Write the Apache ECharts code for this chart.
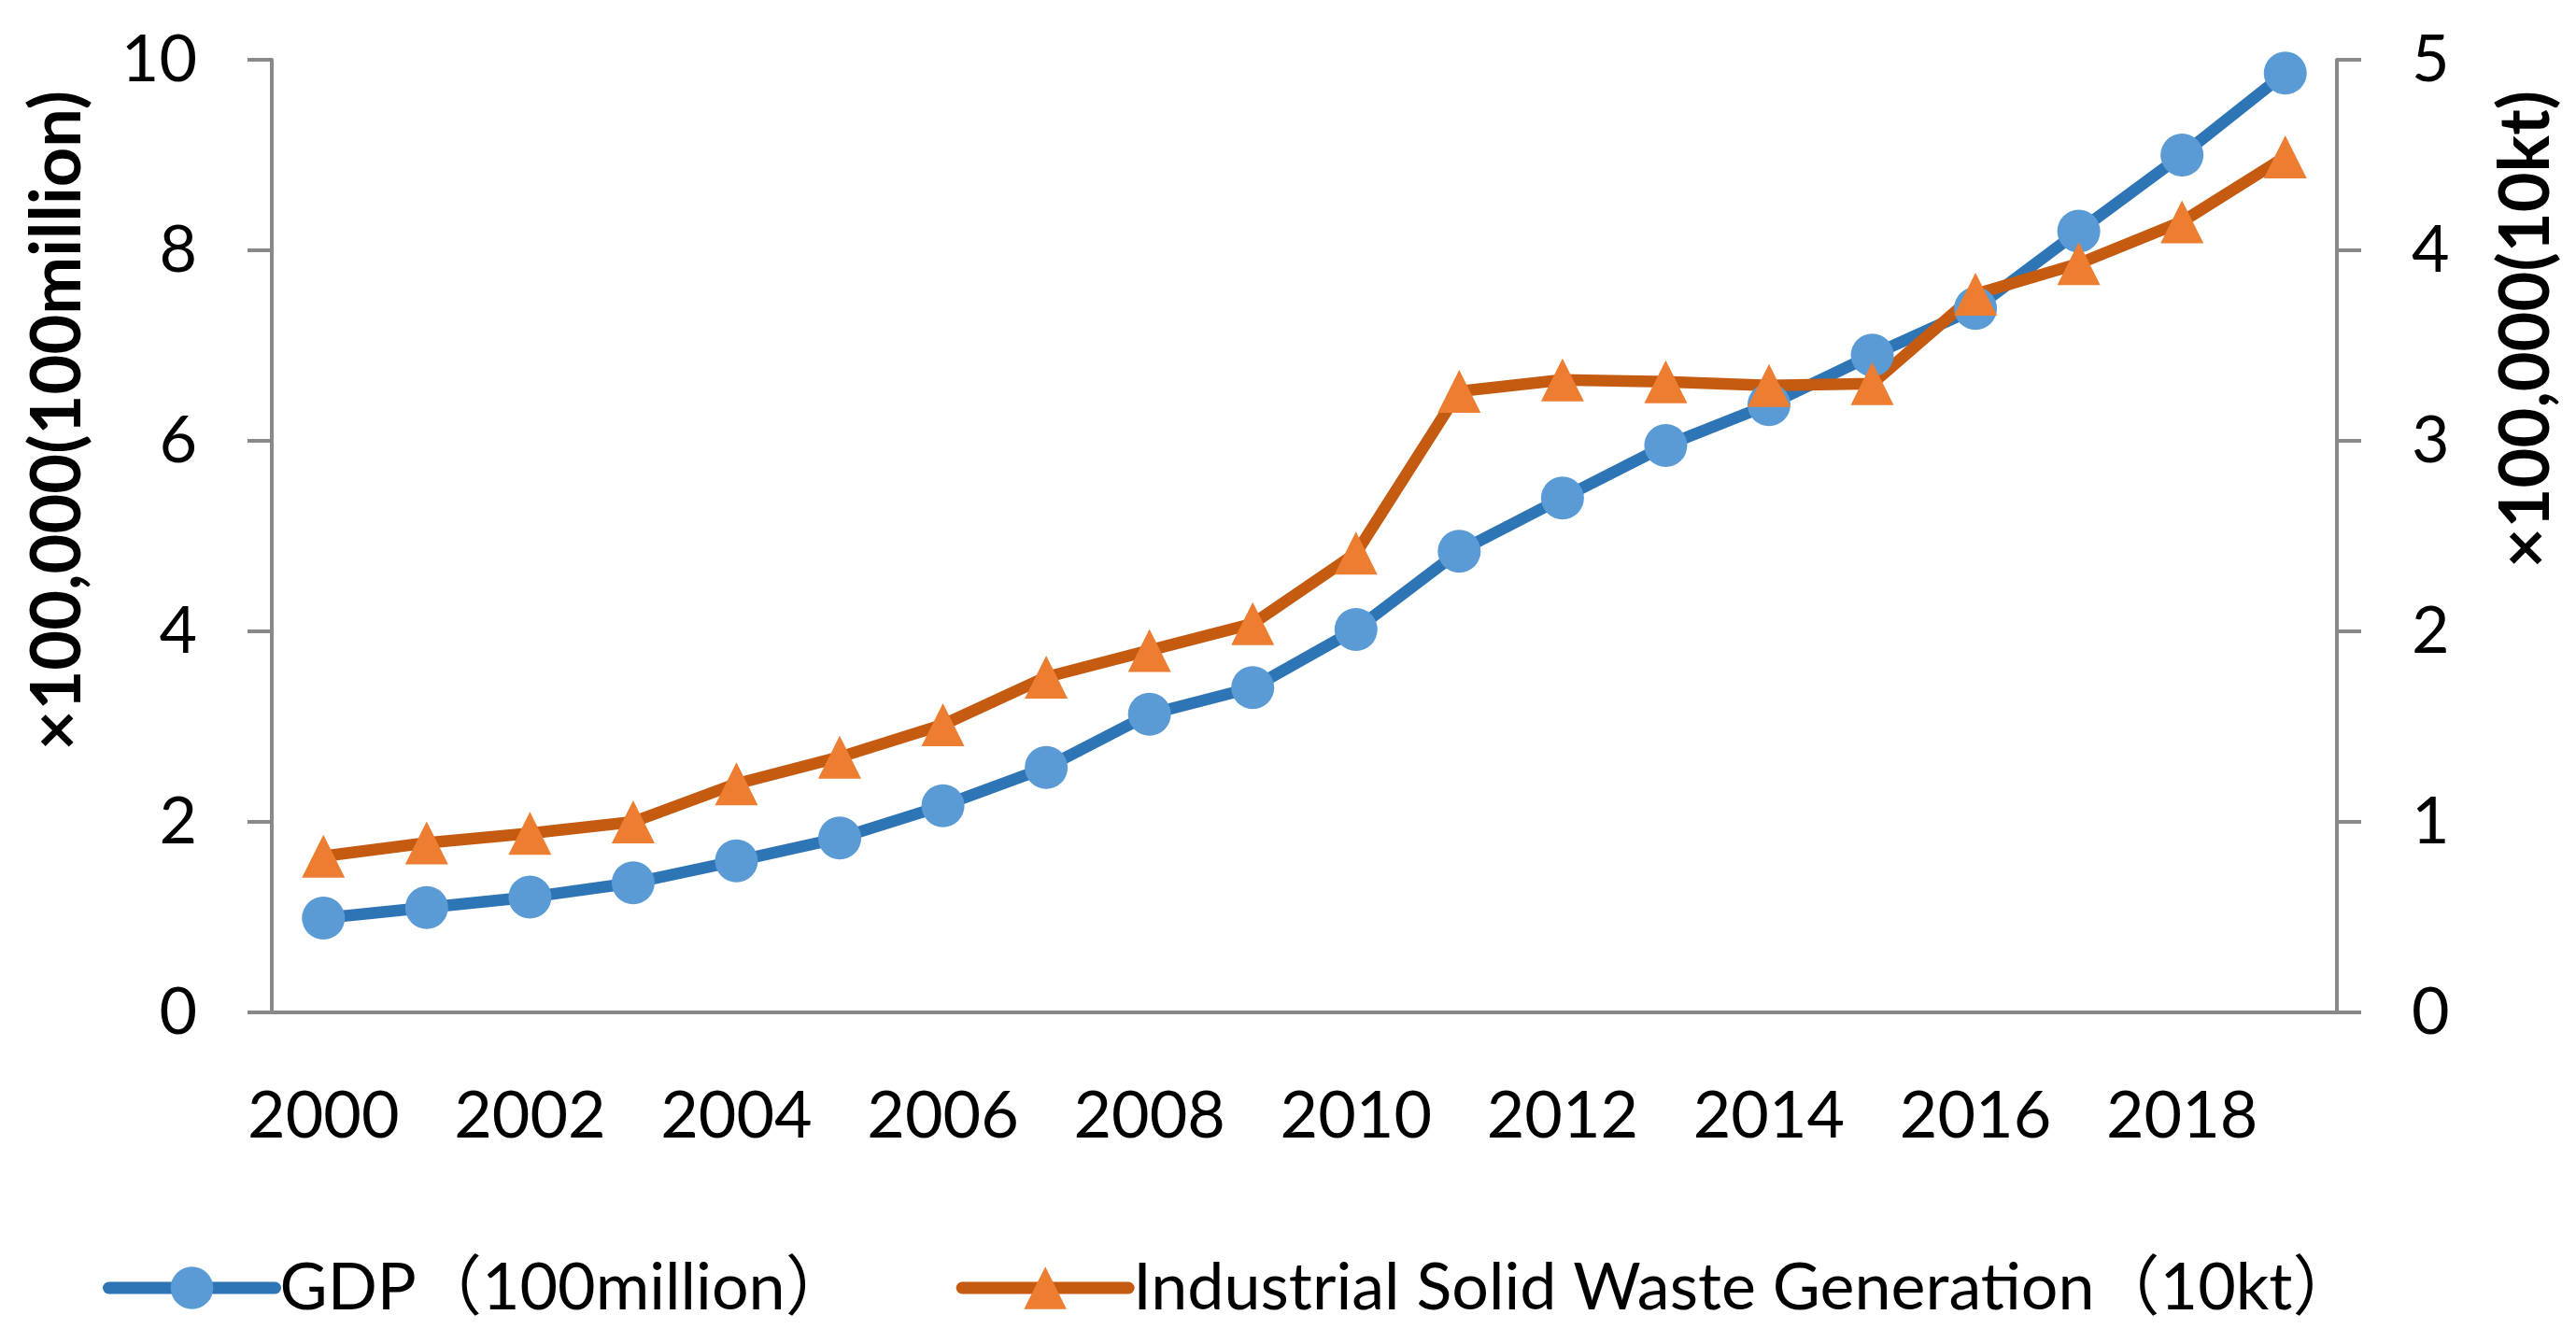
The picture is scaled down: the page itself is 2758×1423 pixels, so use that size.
<!DOCTYPE html>
<html><head><meta charset="utf-8">
<script src="https://cdn.jsdelivr.net/npm/echarts@6/dist/echarts.min.js"></script>
<style>html,body{margin:0;padding:0;background:#fff}#c{width:2758px;height:1423px}</style>
</head><body><div id="c"></div>
<script>
const years = ['2000','2001','2002','2003','2004','2005','2006','2007','2008','2009','2010','2011','2012','2013','2014','2015','2016','2017','2018','2019'];
const gdp = [0.99, 1.10, 1.21, 1.36, 1.59, 1.83, 2.17, 2.57, 3.13, 3.41, 4.02, 4.84, 5.40, 5.95, 6.38, 6.90, 7.39, 8.20, 9.00, 9.86];
const waste = [0.82, 0.89, 0.94, 1.00, 1.20, 1.34, 1.51, 1.76, 1.90, 2.04, 2.41, 3.26, 3.32, 3.31, 3.29, 3.30, 3.77, 3.93, 4.15, 4.49];
const seriesNames = ['GDP（100million）', 'Industrial Solid Waste Generation（10kt）'];
const leftName = '×100,000(100million)';
const rightName = '×100,000(10kt)';

const FONT = 'Lato, "Noto Sans CJK SC", sans-serif';
const AX = '#898989';
const chart = echarts.init(document.getElementById('c'));
const axisCommon = {
  axisLine: {show: true, lineStyle: {color: AX, width: 4}},
  axisTick: {show: true, length: 26, lineStyle: {color: AX, width: 4}},
  splitLine: {show: false},
  axisLabel: {margin: 80, fontSize: 70, fontFamily: FONT, color: '#000'}
};
chart.setOption({
  animation: false,
  backgroundColor: '#fff',
  grid: {left: 291, right: 256, top: 64, bottom: 339},
  legend: {
    left: 105, top: 1339, itemWidth: 178, itemHeight: 57, itemGap: 113,
    lineStyle: {width: 13, cap: 'round'},
    textStyle: {fontSize: 70, fontFamily: FONT, color: '#000'},
    data: seriesNames
  },
  xAxis: {
    type: 'category', data: years, boundaryGap: true,
    axisLine: {lineStyle: {color: AX, width: 4}},
    axisTick: {interval: 1, length: 27, lineStyle: {color: AX, width: 4}},
    axisLabel: {interval: 1, margin: 76, fontSize: 70, fontFamily: FONT, color: '#000'}
  },
  yAxis: [
    Object.assign({type: 'value', min: 0, max: 10, interval: 2, position: 'left'}, axisCommon),
    Object.assign({type: 'value', min: 0, max: 5, interval: 1, position: 'right'}, axisCommon)
  ],
  series: [
    {name: seriesNames[0], type: 'line', yAxisIndex: 0, data: gdp, symbol: 'circle', symbolSize: 46,
     lineStyle: {color: '#2E75B6', width: 12.5}, itemStyle: {color: '#5B9BD5'}},
    {name: seriesNames[1], type: 'line', yAxisIndex: 1, data: waste, symbol: 'triangle', symbolSize: 46,
     lineStyle: {color: '#C55A11', width: 12.5}, itemStyle: {color: '#ED7D31'}}
  ],
  graphic: [
    {type: 'text', x: 62, y: 97, rotation: Math.PI / 2,
     style: {text: leftName, font: 'bold 74px Lato', textAlign: 'right', textVerticalAlign: 'middle', fill: '#000'}},
    {type: 'text', x: 2705, y: 97, rotation: Math.PI / 2,
     style: {text: rightName, font: 'bold 74px Lato', textAlign: 'right', textVerticalAlign: 'middle', fill: '#000'}}
  ]
});
</script></body></html>
